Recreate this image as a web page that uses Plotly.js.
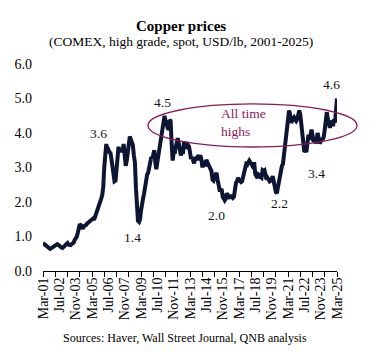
<!DOCTYPE html>
<html>
<head>
<meta charset="utf-8">
<script src="https://cdn.plot.ly/plotly-3.0.1.min.js"></script>
<style>html,body{margin:0;padding:0;background:#fff;}#chart{width:371px;height:363px;}</style>
</head>
<body>
<div id="chart"></div>
<script>
// Monthly copper prices, USD/lb (first value = Mar 2001)
const startYear = 2001, startMonth = 3;
const p2001 = [0.81, 0.77, 0.76, 0.74, 0.70, 0.67, 0.66, 0.64, 0.66, 0.69];
const p2002 = [0.72, 0.73, 0.76, 0.75, 0.78, 0.76, 0.72, 0.68, 0.68, 0.67, 0.72, 0.72];
const p2003 = [0.76, 0.79, 0.81, 0.76, 0.76, 0.75, 0.78, 0.80, 0.82, 0.90, 0.94, 0.99];
const p2004 = [1.10, 1.30, 1.36, 1.33, 1.24, 1.22, 1.30, 1.31, 1.33, 1.37, 1.40, 1.43];
const p2005 = [1.44, 1.47, 1.50, 1.52, 1.48, 1.57, 1.63, 1.69, 1.75, 1.85, 1.95, 2.10];
const p2006 = [2.20, 2.45, 3.00, 3.55, 3.68, 3.50, 3.52, 3.45, 3.42, 3.25, 3.00, 2.75];
const p2007 = [2.60, 2.62, 3.00, 3.50, 3.60, 3.45, 3.55, 3.45, 3.50, 3.68, 3.30, 3.05];
const p2008 = [3.20, 3.55, 3.85, 3.90, 3.82, 3.75, 3.65, 3.35, 3.15, 2.40, 1.80, 1.45];
const p2009 = [1.42, 1.50, 1.75, 2.05, 2.10, 2.25, 2.45, 2.75, 2.80, 2.85, 3.00, 3.15];
const p2010 = [3.30, 3.25, 3.40, 3.50, 3.15, 2.95, 3.15, 3.35, 3.50, 3.70, 3.85, 4.15];
const p2011 = [4.35, 4.50, 4.35, 4.30, 4.15, 4.10, 4.38, 4.35, 3.70, 3.20, 3.45, 3.40];
const p2012 = [3.60, 3.85, 3.85, 3.70, 3.55, 3.35, 3.45, 3.40, 3.70, 3.70, 3.55, 3.62];
const p2013 = [3.65, 3.60, 3.45, 3.25, 3.30, 3.20, 3.12, 3.25, 3.28, 3.30, 3.22, 3.30];
const p2014 = [3.35, 3.25, 3.05, 3.05, 3.12, 3.10, 3.22, 3.15, 3.10, 3.05, 3.00, 2.90];
const p2015 = [2.65, 2.62, 2.70, 2.75, 2.85, 2.65, 2.45, 2.35, 2.35, 2.38, 2.15, 2.10];
const p2016 = [2.05, 2.10, 2.25, 2.20, 2.10, 2.10, 2.20, 2.15, 2.12, 2.15, 2.50, 2.55];
const p2017 = [2.60, 2.70, 2.65, 2.58, 2.58, 2.60, 2.75, 2.95, 2.98, 3.10, 3.08, 3.15];
const p2018 = [3.20, 3.15, 3.10, 3.05, 3.10, 3.10, 2.80, 2.72, 2.70, 2.80, 2.78, 2.72];
const p2019 = [2.70, 2.92, 2.90, 2.92, 2.75, 2.65, 2.70, 2.60, 2.60, 2.62, 2.65, 2.75];
const p2020 = [2.55, 2.45, 2.30, 2.25, 2.40, 2.65, 2.85, 2.90, 3.05, 3.10, 3.40, 3.70];
const p2021 = [3.95, 4.15, 4.40, 4.65, 4.55, 4.30, 4.35, 4.40, 4.45, 4.40, 4.35, 4.40];
const p2022 = [4.50, 4.65, 4.55, 4.20, 3.85, 3.55, 3.45, 3.50, 3.45, 3.70, 3.95, 3.80];
const p2023 = [4.00, 4.10, 3.95, 3.75, 3.85, 3.70, 3.80, 4.00, 3.85, 3.70, 3.75, 3.85];
const p2024 = [3.80, 3.90, 4.10, 4.55, 4.60, 4.40, 4.20, 4.15, 4.30, 4.35, 4.20, 4.40];
const p2025 = [4.30, 4.60, 5.00];

const tickLabels = ["Mar-01","Jul-02","Nov-03","Mar-05","Jul-06","Nov-07","Mar-09","Jul-10","Nov-11","Mar-13","Jul-14","Nov-15","Mar-17","Jul-18","Nov-19","Mar-21","Jul-22","Nov-23","Mar-25"];
const yTicks = [0, 1, 2, 3, 4, 5, 6];

// Data labels: [text, month index from Mar-01, y position]
const labelText = ["3.6", "1.4", "4.5", "2.0", "2.2", "3.4"];
const labelMonth = [54, 88, 117, 170, 232, 268];
const labelY = [4.0, 0.96, 4.87, 1.62, 1.97, 2.84];

const prices = [].concat(p2001,p2002,p2003,p2004,p2005,p2006,p2007,p2008,p2009,p2010,p2011,p2012,p2013,p2014,p2015,p2016,p2017,p2018,p2019,p2020,p2021,p2022,p2023,p2024,p2025);

function monthDate(i){
  const t = (startMonth - 1) + i;
  const y = startYear + Math.floor(t / 12);
  const m = (t % 12) + 1;
  return y + "-" + String(m).padStart(2, "0") + "-01";
}
const dates = prices.map((_, i) => monthDate(i));
const monNames = {Mar:3, Jul:7, Nov:11};
const tickVals = tickLabels.map(s => {
  const [mn, yy] = s.split("-");
  return (2000 + parseInt(yy)) + "-" + String(monNames[mn]).padStart(2, "0") + "-01";
});

const FONT = "Liberation Serif, Times New Roman, serif";
const maroon = "#8a1a5b";

const annotations = labelText.map((t, i) => ({
  x: monthDate(labelMonth[i]), y: labelY[i], xref: "x", yref: "y",
  text: t, showarrow: false, font: {family: FONT, size: 13.5, color: "#111"}
}));
annotations.push({x: 1.017, y: 5.42, xref: "paper", yref: "y", text: "4.6", showarrow: false,
  font: {family: FONT, size: 13.5, color: "#111"}});
annotations.push({x: 0.599, y: 0.715, xref: "paper", yref: "paper", text: "All time<br>highs",
  align: "left", xanchor: "left", yanchor: "middle", showarrow: false,
  font: {family: FONT, size: 13.5, color: maroon}});
annotations.push({x: 0.469, y: 1.232, xref: "paper", yref: "paper", text: "<b>Copper prices</b>",
  showarrow: false, font: {family: FONT, size: 15, color: "#000"}});
annotations.push({x: 0.469, y: 1.155, xref: "paper", yref: "paper", text: "(COMEX, high grade, spot, USD/lb, 2001-2025)",
  showarrow: false, font: {family: FONT, size: 13.5, color: "#000"}});
annotations.push({x: 0.483, y: -0.367, xref: "paper", yref: "paper", text: "Sources: Haver, Wall Street Journal, QNB analysis",
  showarrow: false, font: {family: FONT, size: 12, color: "#000"}});

const trace = {
  x: dates, y: prices, type: "scatter", mode: "lines",
  line: {color: "#0c1633", width: 4, shape: "linear"},
  hoverinfo: "skip"
};

const layout = {
  width: 371, height: 363,
  margin: {l: 43, r: 34, t: 64, b: 92},
  paper_bgcolor: "#fff", plot_bgcolor: "#fff",
  showlegend: false,
  font: {family: FONT, size: 13, color: "#000"},
  xaxis: {
    type: "date",
    range: [dates[0], dates[dates.length - 1]],
    tickmode: "array", tickvals: tickVals, ticktext: tickLabels,
    tickangle: -90, ticks: "", showgrid: false, zeroline: false,
    showline: true, linecolor: "#000", linewidth: 1,
    tickfont: {family: FONT, size: 14, color: "#000"},
    minor: {ticks: "outside", ticklen: 5, tickcolor: "#000", tickwidth: 1, dtick: "M12", tick0: dates[0], showgrid: false}
  },
  yaxis: {
    range: [0, 6], tickmode: "array", tickvals: yTicks,
    ticktext: yTicks.map(v => v.toFixed(1)),
    showgrid: false, zeroline: false, showline: false, ticks: "",
    ticklabelstandoff: 10,
    tickfont: {family: FONT, size: 14, color: "#000"}
  },
  shapes: [{
    type: "circle", xref: "paper", yref: "paper",
    x0: 0.357, x1: 1.068, y0: 0.599, y1: 0.807,
    line: {color: maroon, width: 1.3}, fillcolor: "rgba(0,0,0,0)", layer: "above"
  }],
  annotations: annotations
};

Plotly.newPlot("chart", [trace], layout, {staticPlot: true, displayModeBar: false});
</script>
</body>
</html>
